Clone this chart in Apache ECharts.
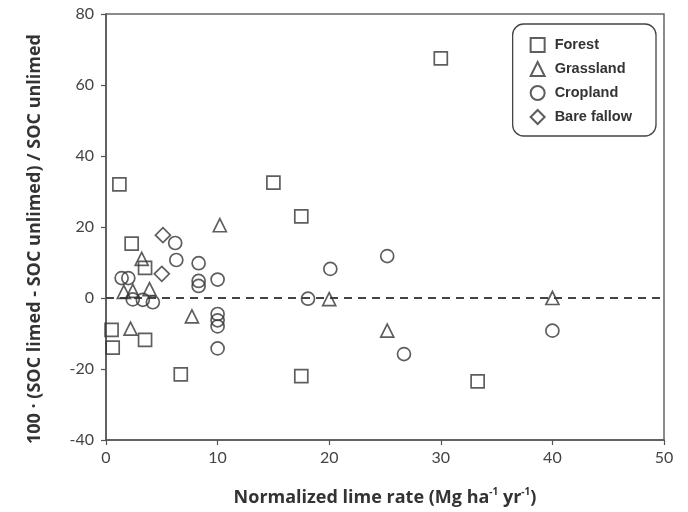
<!DOCTYPE html>
<html>
<head>
<meta charset="utf-8">
<script src="https://cdn.jsdelivr.net/npm/echarts@6/dist/echarts.min.js"></script>
<style>html,body{margin:0;padding:0;background:#fff}#c{width:688px;height:512px}</style>
</head>
<body>
<div id="c"></div>
<script>
var forestX = [30, 1.2, 15, 17.5, 2.3, 3.5, 0.5, 0.6, 3.5, 6.7, 17.5, 33.3];
var forestY = [67.5, 32, 32.5, 23, 15.3, 8.5, -9, -14, -11.8, -21.5, -22, -23.5];
var grassX = [10.2, 3.2, 1.6, 2.4, 3.9, 2.2, 7.7, 20, 25.2, 40];
var grassY = [20.5, 11, 1.7, 2.0, 2.5, -8.6, -5.2, -0.3, -9.2, 0];
var cropX = [6.2, 6.3, 8.3, 8.3, 8.3, 10, 10, 10, 10, 10, 1.4, 2.0, 2.4, 3.3, 4.2, 25.2, 20.1, 18.1, 26.7, 40];
var cropY = [15.5, 10.7, 9.8, 4.8, 3.4, 5.2, -4.5, -6.3, -8, -14.2, 5.6, 5.6, -0.4, -0.5, -1.2, 11.8, 8.2, -0.2, -15.8, -9.2];
var fallowX = [5.1, 5.0];
var fallowY = [17.7, 6.8];
var seriesNames = ['Forest', 'Grassland', 'Cropland', 'Bare fallow'];
var xTicks = [0, 10, 20, 30, 40, 50];
var yTicks = [-40, -20, 0, 20, 40, 60, 80];

function pairs(xs, ys) { return xs.map(function (x, i) { return [x, ys[i]]; }); }

var stroke = '#363636';
function sc(name, symbol, size, xs, ys) {
  return {
    name: name, type: 'scatter', symbol: symbol, symbolSize: size,
    data: pairs(xs, ys),
    itemStyle: { color: 'rgba(255,255,255,0)', borderColor: stroke, borderWidth: 1.7 },
    emphasis: { disabled: true }
  };
}

var chart = echarts.init(document.getElementById('c'), null, { renderer: 'canvas' });
chart.setOption({
  animation: false,
  backgroundColor: '#fff',
  grid: { left: 106, right: 24, top: 14, bottom: 72, show: true, borderColor: '#666', borderWidth: 1.5, backgroundColor: 'transparent' },
  legend: {
    orient: 'vertical', right: 32, top: 24,
    data: seriesNames,
    backgroundColor: '#fff',
    borderColor: '#444', borderWidth: 1.3, borderRadius: 11,
    padding: [13, 24, 11, 17],
    itemGap: 8, itemWidth: 14, itemHeight: 14,
    textStyle: { fontFamily: 'Liberation Sans', fontWeight: 'bold', fontSize: 14.5, color: '#333', padding: [0, 0, 0, 5] }
  },
  xAxis: {
    type: 'value', min: 0, max: 50, interval: 10,
    name: '{n|Normalized lime rate (Mg ha}{s|-1}{n| yr}{s|-1}{n|)}',
    nameLocation: 'middle', nameGap: 47,
    nameTextStyle: {
      rich: {
        n: { fontFamily: 'Open Sans', fontWeight: 'bold', fontSize: 18, color: '#333', lineHeight: 21 },
        s: { fontFamily: 'Open Sans', fontWeight: 'bold', fontSize: 10, color: '#333', lineHeight: 21, verticalAlign: 'top', padding: [0, 0, 8, 0] }
      }
    },
    axisLine: { show: true, onZero: false, lineStyle: { color: '#555', width: 1.5 } },
    axisTick: { show: true, length: 5, inside: false, lineStyle: { color: '#555', width: 1.2 } },
    axisLabel: { fontFamily: 'Lato', fontSize: 16, color: '#444', margin: 10 },
    splitLine: { show: false }
  },
  yAxis: {
    type: 'value', min: -40, max: 80, interval: 20,
    name: '100 · (SOC limed - SOC unlimed) / SOC unlimed',
    nameLocation: 'middle', nameGap: 62,
    nameTextStyle: { fontFamily: 'Open Sans', fontWeight: 'bold', fontSize: 18, color: '#333', padding: [0, 24, 0, 0] },
    axisLine: { show: true, onZero: false, lineStyle: { color: '#555', width: 1.5 } },
    axisTick: { show: true, length: 5, lineStyle: { color: '#555', width: 1.2 } },
    axisLabel: { fontFamily: 'Lato', fontSize: 16, color: '#444', margin: 12 },
    splitLine: { show: false }
  },
  series: [
    {
      name: 'zero', type: 'line', data: [[0, 0], [50, 0]], symbol: 'none', silent: true,
      lineStyle: { color: '#444', width: 2, type: [8, 6] }, z: 1
    },
    sc('Forest', 'rect', 13, forestX, forestY),
    sc('Grassland', 'triangle', 13, grassX, grassY),
    sc('Cropland', 'circle', 13, cropX, cropY),
    sc('Bare fallow', 'diamond', 15, fallowX, fallowY)
  ]
});
</script>
</body>
</html>
